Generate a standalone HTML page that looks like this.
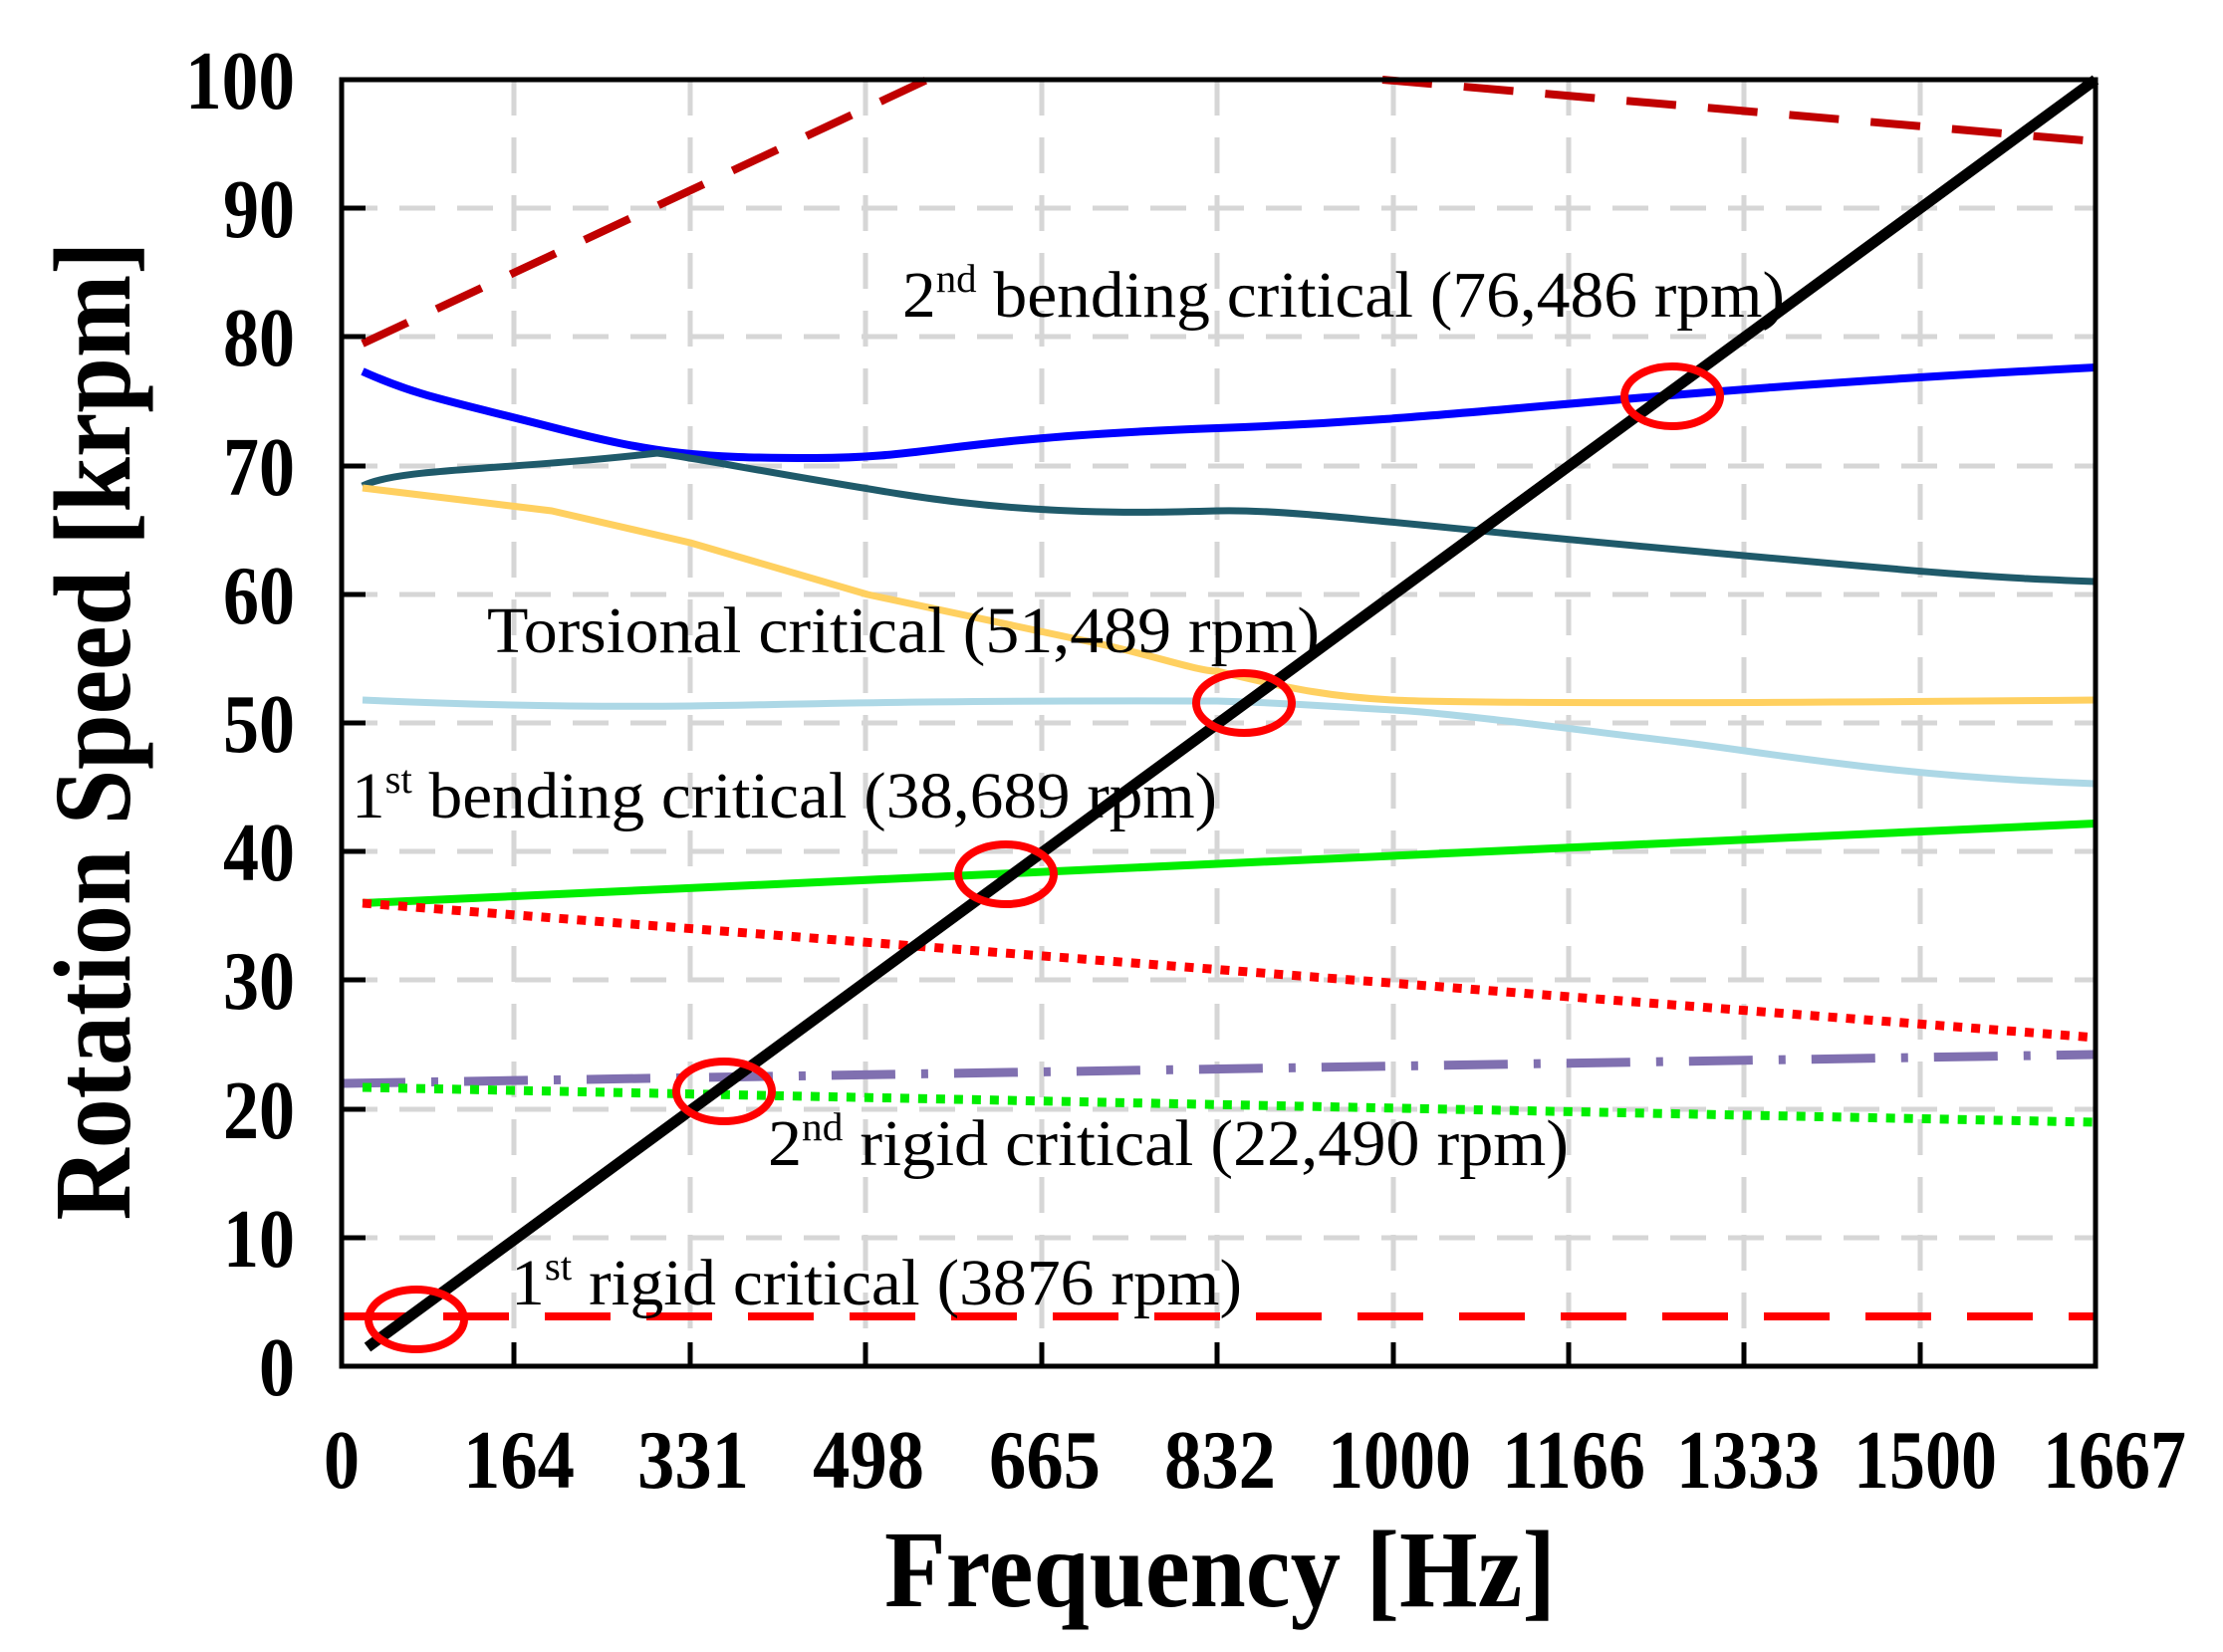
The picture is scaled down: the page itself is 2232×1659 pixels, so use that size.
<!DOCTYPE html>
<html><head><meta charset="utf-8"><style>html,body{margin:0;padding:0;background:#fff}svg{display:block}</style></head>
<body>
<svg width="2232" height="1659" viewBox="0 0 2232 1659" xmlns="http://www.w3.org/2000/svg">
<rect width="2232" height="1659" fill="#fff"/>
<g stroke="#d6d6d6" stroke-width="5" stroke-dasharray="36,22" fill="none">
<path d="M516 80V1372M693 80V1372M869 80V1372M1046 80V1372M1222 80V1372M1399 80V1372M1575 80V1372M1751 80V1372M1928 80V1372"/>
<path d="M343 1243H2104M343 1114H2104M343 984H2104M343 855H2104M343 726H2104M343 597H2104M343 468H2104M343 338H2104M343 209H2104"/>
</g>
<g fill="none" stroke-linecap="butt" stroke-linejoin="round">
<path d="M364 345L931 80M1388 80L2104 142" stroke="#c00000" stroke-width="8" stroke-dasharray="50,32"/>
<path d="M364 373C420 398 449 402 554 429S700 460 818 460S950 440 1222 430S1600 395 2104 369" stroke="#0000ff" stroke-width="8"/>
<path d="M364 488C400 470 501 473 660 455C700 460 766 474 903 496S1150 515 1222 513S1400 526 1685 552S2000 580 2104 584" stroke="#1f5a6a" stroke-width="7"/>
<path d="M364 490L554 513L693 545L871 597L1082 642C1150 655 1200 674 1222 674C1300 693 1340 700 1399 703S1700 707 2104 703" stroke="#ffd060" stroke-width="7"/>
<path d="M364 703C500 709 600 710 693 709S900 703 1222 704C1300 706 1340 710 1399 713S1600 735 1685 745S1900 780 2104 787" stroke="#add8e6" stroke-width="7"/>
<path d="M364 907L2104 827" stroke="#00ee00" stroke-width="8"/>
<path d="M364 907L2104 1042" stroke="#ff0000" stroke-width="9" stroke-dasharray="9,9"/>
<path d="M343 1088L2104 1059" stroke="#8070b0" stroke-width="9" stroke-dasharray="64,26,7,26"/>
<path d="M364 1092L2104 1127" stroke="#00ee00" stroke-width="9" stroke-dasharray="9,9"/>
<path d="M343 1322L2104 1322" stroke="#ff0000" stroke-width="8" stroke-dasharray="66,36"/>
<path d="M369 1353L2104 80" stroke="#000" stroke-width="11"/>
</g>
<g fill="none" stroke="#ff0000" stroke-width="8">
<ellipse cx="418" cy="1325" rx="48" ry="30"/>
<ellipse cx="727" cy="1096" rx="48" ry="30"/>
<ellipse cx="1010" cy="878" rx="48" ry="30"/>
<ellipse cx="1249" cy="706" rx="48" ry="30"/>
<ellipse cx="1679" cy="398" rx="48" ry="30"/>
</g>
<rect x="343" y="80" width="1761" height="1292" fill="none" stroke="#000" stroke-width="5"/>
<g stroke="#000" stroke-width="5">
<path d="M516 1372v-24M693 1372v-24M869 1372v-24M1046 1372v-24M1222 1372v-24M1399 1372v-24M1575 1372v-24M1751 1372v-24M1928 1372v-24"/>
<path d="M343 1243h24M343 1114h24M343 984h24M343 855h24M343 726h24M343 597h24M343 468h24M343 338h24M343 209h24"/>
</g>
<g font-family="Liberation Serif, serif" font-weight="bold" font-size="84" fill="#000" text-anchor="end">
<text x="296" y="1401" textLength="36" lengthAdjust="spacingAndGlyphs">0</text>
<text x="296" y="1272" textLength="72" lengthAdjust="spacingAndGlyphs">10</text>
<text x="296" y="1143" textLength="72" lengthAdjust="spacingAndGlyphs">20</text>
<text x="296" y="1013" textLength="72" lengthAdjust="spacingAndGlyphs">30</text>
<text x="296" y="884" textLength="72" lengthAdjust="spacingAndGlyphs">40</text>
<text x="296" y="755" textLength="72" lengthAdjust="spacingAndGlyphs">50</text>
<text x="296" y="626" textLength="72" lengthAdjust="spacingAndGlyphs">60</text>
<text x="296" y="497" textLength="72" lengthAdjust="spacingAndGlyphs">70</text>
<text x="296" y="367" textLength="72" lengthAdjust="spacingAndGlyphs">80</text>
<text x="296" y="238" textLength="72" lengthAdjust="spacingAndGlyphs">90</text>
<text x="296" y="109" textLength="110" lengthAdjust="spacingAndGlyphs">100</text>
</g>
<g font-family="Liberation Serif, serif" font-weight="bold" font-size="84" fill="#000" text-anchor="middle">
<text x="343" y="1494" textLength="36" lengthAdjust="spacingAndGlyphs">0</text>
<text x="521" y="1494" textLength="112" lengthAdjust="spacingAndGlyphs">164</text>
<text x="696" y="1494" textLength="112" lengthAdjust="spacingAndGlyphs">331</text>
<text x="872" y="1494" textLength="112" lengthAdjust="spacingAndGlyphs">498</text>
<text x="1049" y="1494" textLength="112" lengthAdjust="spacingAndGlyphs">665</text>
<text x="1225" y="1494" textLength="112" lengthAdjust="spacingAndGlyphs">832</text>
<text x="1405" y="1494" textLength="144" lengthAdjust="spacingAndGlyphs">1000</text>
<text x="1580" y="1494" textLength="144" lengthAdjust="spacingAndGlyphs">1166</text>
<text x="1755" y="1494" textLength="144" lengthAdjust="spacingAndGlyphs">1333</text>
<text x="1933" y="1494" textLength="144" lengthAdjust="spacingAndGlyphs">1500</text>
<text x="2123" y="1494" textLength="144" lengthAdjust="spacingAndGlyphs">1667</text>
</g>
<text x="1225" y="1613" font-family="Liberation Serif, serif" font-weight="bold" font-size="110" text-anchor="middle" textLength="674" lengthAdjust="spacingAndGlyphs">Frequency [Hz]</text>
<text transform="translate(130,734) rotate(-90)" font-family="Liberation Serif, serif" font-weight="bold" font-size="110" text-anchor="middle" textLength="983" lengthAdjust="spacingAndGlyphs">Rotation Speed [krpm]</text>
<g font-family="Liberation Serif, serif" font-size="66" fill="#000">
<text x="906" y="318" textLength="886" lengthAdjust="spacingAndGlyphs">2<tspan font-size="40" dy="-25">nd</tspan><tspan dy="25"> bending critical (76,486 rpm)</tspan></text>
<text x="489" y="655" textLength="836" lengthAdjust="spacingAndGlyphs">Torsional critical (51,489 rpm)</text>
<text x="353" y="821" textLength="869" lengthAdjust="spacingAndGlyphs">1<tspan font-size="40" dy="-25">st</tspan><tspan dy="25"> bending critical (38,689 rpm)</tspan></text>
<text x="771" y="1170" textLength="804" lengthAdjust="spacingAndGlyphs">2<tspan font-size="40" dy="-25">nd</tspan><tspan dy="25"> rigid critical (22,490 rpm)</tspan></text>
<text x="513" y="1310" textLength="734" lengthAdjust="spacingAndGlyphs">1<tspan font-size="40" dy="-25">st</tspan><tspan dy="25"> rigid critical (3876 rpm)</tspan></text>
</g>
</svg>
</body></html>
